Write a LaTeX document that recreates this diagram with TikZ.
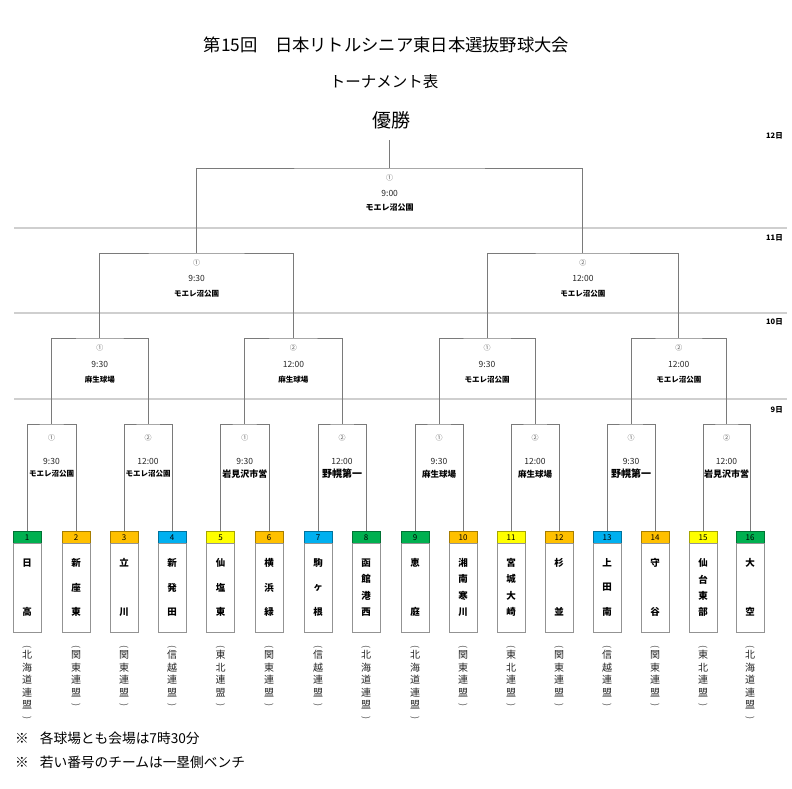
\documentclass[tikz,border=0pt]{standalone}
\usepackage{fontspec}
\setmainfont{Noto Sans CJK JP}
\usetikzlibrary{calc}
\definecolor{tgreen}{HTML}{00B050}
\definecolor{torange}{HTML}{FFC000}
\definecolor{tblue}{HTML}{00B0F0}
\definecolor{tyellow}{HTML}{FFFF00}
\definecolor{bline}{HTML}{7A7A7A}
\definecolor{dayline}{HTML}{CFCFCF}
\newcommand\fs[1]{\fontsize{#1}{#1}\selectfont}
\newcommand\teambox[7]{%
  \node[hdr=#3] (h#1) at (#2,531) {#1};
  \node[tbody] (b#1) at (#2,543) {};
  \foreach \ch [count=\k] in {#5} {
    \pgfmathsetmacro\yy{563+49*(\k-1)/(#4-1)}
    \node[tname] (n#1-\k) at (#2,\yy) {\ch};
  }
  \node[paren,rotate=-90] (lo#1) at (#2,647) {(};
  \foreach \ch [count=\k] in {#7} {
    \pgfmathsetmacro\yy{655+12.5*(\k-1)}
    \node[lg] (l#1-\k) at (#2,\yy) {\ch};
  }
  \pgfmathsetmacro\yy{655+12.5*(#6-1)+13}
  \node[paren,rotate=-90] (lc#1) at (#2,\yy) {)};
}
\begin{document}
\begin{tikzpicture}[x=1pt,y=-1pt,
  bracket/.style={draw=bline,line width=0.9pt},
  dayrule/.style={draw=dayline,line width=1.6pt},
  hdr/.style={draw=#1!65!black,fill=#1,minimum width=28pt,minimum height=12pt,inner sep=0pt,anchor=north,font=\fs{8}},
  tbody/.style={draw=gray!85,minimum width=28pt,minimum height=89pt,inner sep=0pt,anchor=north},
  tname/.style={inner sep=0pt,font=\fs{9.5}\bfseries},
  lg/.style={inner sep=0pt,font=\fs{10},text=black!85},
  paren/.style={inner sep=0pt,font=\fs{9},text=black!70},
  circ/.style={inner sep=0pt,font=\fs{7},text=black!65},
  tm/.style={inner sep=0pt,font=\fs{8.5},text=black!85},
  ven/.style={inner sep=0pt,font=\bfseries},
  day/.style={inner sep=0pt,anchor=east,font=\fs{7.5}\bfseries},
  note/.style={inner sep=0pt,anchor=west,font=\fs{13.7}}
]
\useasboundingbox (0,0) rectangle (792,789);

% titles
\node[inner sep=0pt,font=\fs{17.3}] (title) at (386.5,45) {第15回\hspace{1em}日本リトルシニア東日本選抜野球大会};
\node[inner sep=0pt,font=\fs{15.5}] (sub) at (384,82) {トーナメント表};
\node[inner sep=0pt,font=\fs{19}] (yusho) at (391,120) {優勝};

% day rules and labels
\coordinate (d1a) at (14,228); \coordinate (d1b) at (787,228);
\coordinate (d2a) at (14,313); \coordinate (d2b) at (787,313);
\coordinate (d3a) at (14,399); \coordinate (d3b) at (787,399);
\draw[dayrule] (d1a) -- (d1b);
\draw[dayrule] (d2a) -- (d2b);
\draw[dayrule] (d3a) -- (d3b);
\node[day] (day12) at (783,136) {12日};
\node[day] (day11) at (783,238) {11日};
\node[day] (day10) at (783,322) {10日};
\node[day] (day9) at (783,410) {9日};

% teams
\teambox{1}{27}{tgreen}{2}{日,高}{5}{北,海,道,連,盟}
\teambox{2}{76}{torange}{3}{新,座,東}{4}{関,東,連,盟}
\teambox{3}{124}{torange}{2}{立,川}{4}{関,東,連,盟}
\teambox{4}{172}{tblue}{3}{新,発,田}{4}{信,越,連,盟}
\teambox{5}{220.5}{tyellow}{3}{仙,塩,東}{4}{東,北,連,盟}
\teambox{6}{269}{torange}{3}{横,浜,緑}{4}{関,東,連,盟}
\teambox{7}{318}{tblue}{3}{駒,ヶ,根}{4}{信,越,連,盟}
\teambox{8}{366}{tgreen}{4}{函,館,港,西}{5}{北,海,道,連,盟}
\teambox{9}{415}{tgreen}{2}{恵,庭}{5}{北,海,道,連,盟}
\teambox{10}{463}{torange}{4}{湘,南,寒,川}{4}{関,東,連,盟}
\teambox{11}{511}{tyellow}{4}{宮,城,大,崎}{4}{東,北,連,盟}
\teambox{12}{559}{torange}{2}{杉,並}{4}{関,東,連,盟}
\teambox{13}{607}{tblue}{3}{上,田,南}{4}{信,越,連,盟}
\teambox{14}{655}{torange}{2}{守,谷}{4}{関,東,連,盟}
\teambox{15}{703}{tyellow}{4}{仙,台,東,部}{4}{東,北,連,盟}
\teambox{16}{750}{tgreen}{2}{大,空}{5}{北,海,道,連,盟}

% round of 16
\foreach \k/\x/\c/\t/\v/\s in {
  1/51.5/①/9:30/モエレ沼公園/7.5,
  2/148/②/12:00/モエレ沼公園/7.5,
  3/244.75/①/9:30/岩見沢市営/9,
  4/342/②/12:00/野幌第一/10,
  5/439/①/9:30/麻生球場/8.5,
  6/535/②/12:00/麻生球場/8.5,
  7/631/①/9:30/野幌第一/10,
  8/726.5/②/12:00/岩見沢市営/9}
{
  \coordinate (r\k) at (\x,424);
  \node[circ] (r\k c) at (\x,438) {\c};
  \node[tm] (r\k t) at (\x,461) {\t};
  \node[ven] (r\k v) at (\x,474) {\fs{\s}\v};
}
% quarter finals
\foreach \k/\x/\c/\t/\v in {
  1/99.75/①/9:30/麻生球場,
  2/293.4/②/12:00/麻生球場,
  3/487/①/9:30/モエレ沼公園,
  4/678.75/②/12:00/モエレ沼公園}
{
  \coordinate (q\k) at (\x,338);
  \node[circ] (q\k c) at (\x,348) {\c};
  \node[tm] (q\k t) at (\x,364) {\t};
  \node[ven] (q\k v) at (\x,380) {\fs{7.5}\v};
}
% semi finals
\foreach \k/\x/\c/\t in {1/196.6/①/9:30, 2/582.9/②/12:00}
{
  \coordinate (s\k) at (\x,253);
  \node[circ] (s\k c) at (\x,263) {\c};
  \node[tm] (s\k t) at (\x,278) {\t};
  \node[ven] (s\k v) at (\x,294) {\fs{7.5}モエレ沼公園};
}
% final
\coordinate (f) at (389.7,168);
\coordinate (champ) at (389.7,140);
\node[circ] (fc) at (389.7,178) {①};
\node[tm] (ft) at (389.7,193) {9:00};
\node[ven] (fv) at (389.7,208) {\fs{8}モエレ沼公園};

% bracket lines
\foreach \k in {1,...,8} {
  \pgfmathtruncatemacro\a{2*\k-1}
  \pgfmathtruncatemacro\b{2*\k}
  \draw[bracket] (h\a.north) |- (r\k) -| (h\b.north);
}
\foreach \k in {1,...,4} {
  \pgfmathtruncatemacro\a{2*\k-1}
  \pgfmathtruncatemacro\b{2*\k}
  \draw[bracket] (r\a) |- (q\k) -| (r\b);
}
\foreach \k in {1,2} {
  \pgfmathtruncatemacro\a{2*\k-1}
  \pgfmathtruncatemacro\b{2*\k}
  \draw[bracket] (q\a) |- (s\k) -| (q\b);
}
\draw[bracket] (s1) |- (f) -| (s2);
\draw[bracket] (f) -- (champ);

% notes
\node[note] (note1) at (15,738) {※\hspace{11pt}各球場とも会場は7時30分};
\node[note] (note2) at (15,762) {※\hspace{11pt}若い番号のチームは一塁側ベンチ};
\end{tikzpicture}
\end{document}
